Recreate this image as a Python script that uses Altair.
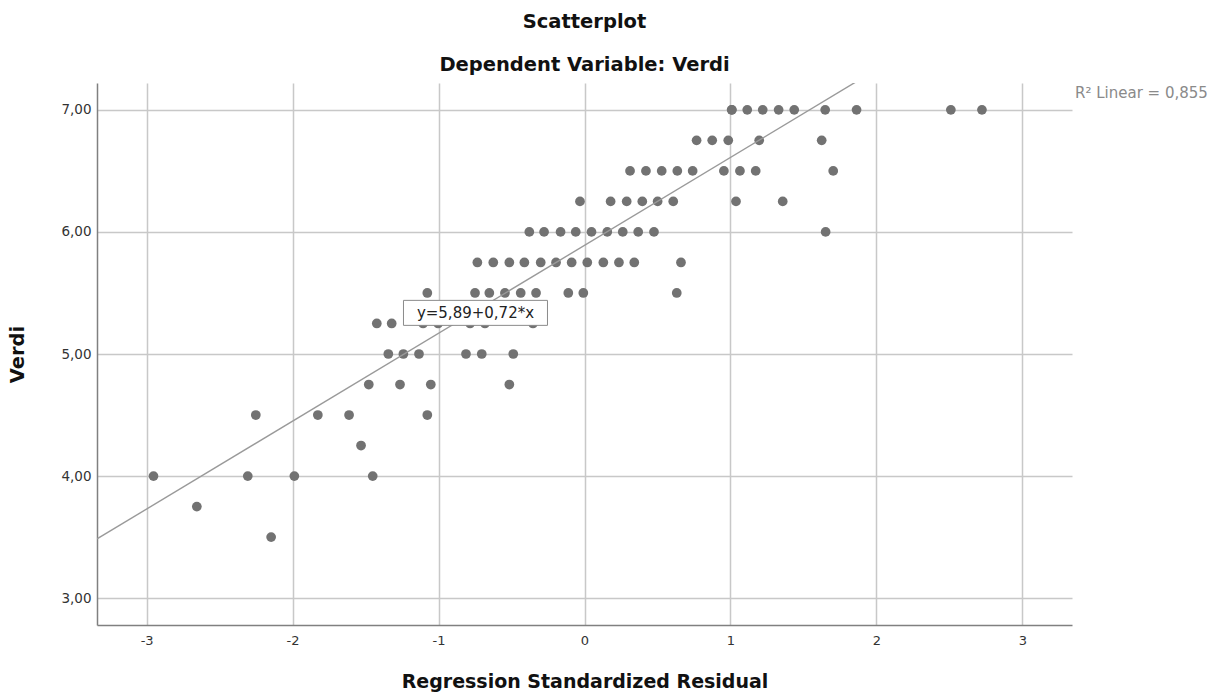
import altair as alt
import pandas as pd

# ---- data ----
verdi_levels = [7.00, 6.75, 6.50, 6.25, 6.00, 5.75, 5.50, 5.25, 5.00, 4.75, 4.50, 4.25, 4.00, 3.75, 3.50]
residuals_at_level = [
    [1.008, 1.010, 1.115, 1.221, 1.330, 1.437, 1.649, 1.864, 2.510, 2.723],
    [0.768, 0.875, 0.985, 1.197, 1.625],
    [0.312, 0.421, 0.529, 0.636, 0.741, 0.955, 1.065, 1.173, 1.704],
    [-0.031, 0.179, 0.289, 0.396, 0.501, 0.608, 1.038, 1.358],
    [-0.378, -0.277, -0.164, -0.060, 0.048, 0.156, 0.262, 0.368, 0.476, 1.652],
    [-0.734, -0.625, -0.515, -0.412, -0.300, -0.195, -0.088, 0.019, 0.129, 0.236, 0.341, 0.661],
    [-1.077, -0.750, -0.652, -0.545, -0.437, -0.332, -0.111, -0.008, 0.632],
    [-1.423, -1.321, -1.106, -1.003, -0.784, -0.682, -0.353],
    [-1.344, -1.241, -1.134, -0.812, -0.704, -0.488],
    [-1.478, -1.264, -1.053, -0.515],
    [-2.252, -1.827, -1.613, -1.077],
    [-1.531],
    [-2.953, -2.307, -1.988, -1.451],
    [-2.656],
    [-2.147],
]

x_ticks = [-3, -2, -1, 0, 1, 2, 3]
y_ticks = [3, 4, 5, 6, 7]
x_domain = [-3.34, 3.34]
y_domain = [2.78, 7.22]

fit_intercept = 5.89
fit_slope = 0.72
fit_label = ["y=5,89+0,72*x"]
fit_label_x = [-0.747]
fit_label_y = [5.337]
r2_label = "R\u00b2 Linear = 0,855"

# ---- tables ----
pts = pd.DataFrame(
    [{"Residual": x, "Verdi": lvl} for lvl, xs in zip(verdi_levels, residuals_at_level) for x in xs]
)
fit = pd.DataFrame({"Residual": x_domain})
fit["Verdi"] = fit_intercept + fit_slope * fit["Residual"]
lab = pd.DataFrame({"Residual": fit_label_x, "Verdi": fit_label_y, "txt": fit_label})

FONT = "DejaVu Sans"
W, H = 975, 542

xs = alt.Scale(domain=x_domain, nice=False, zero=False)
ys = alt.Scale(domain=y_domain, nice=False, zero=False)

x_axis = alt.Axis(
    values=x_ticks, labelExpr="'' + datum.value", grid=True, ticks=False,
    title="Regression Standardized Residual", titleY=62, titleBaseline="alphabetic",
    labelPadding=9, labelFontSize=13, labelFont=FONT, labelColor="#333333",
    titleFont=FONT, titleFontSize=19, titleFontWeight="bold", titleColor="#111111",
)
y_axis = alt.Axis(
    values=y_ticks, labelExpr="replace(format(datum.value, '.2f'), '.', ',')", grid=True, ticks=False,
    title="Verdi", titleX=-74, titleY=H / 2, titleBaseline="alphabetic", titleAlign="center",
    labelPadding=6, labelFontSize=13.5, labelFont=FONT, labelColor="#333333",
    titleFont=FONT, titleFontSize=19.5, titleFontWeight="bold", titleColor="#111111",
)

points = alt.Chart(pts).mark_circle(size=95, color="#727272", opacity=1).encode(
    x=alt.X("Residual:Q", scale=xs, axis=x_axis),
    y=alt.Y("Verdi:Q", scale=ys, axis=y_axis),
)

line = alt.Chart(fit).mark_line(color="#9a9a9a", strokeWidth=1.4, clip=True).encode(
    x=alt.X("Residual:Q", scale=xs),
    y=alt.Y("Verdi:Q", scale=ys),
)

box = alt.Chart(lab).mark_point(
    shape="M-1,-0.1736L1,-0.1736L1,0.1736L-1,0.1736Z", size=144 * 144,
    filled=True, fill="white", stroke="#8a8a8a", strokeWidth=1, opacity=1,
).encode(
    x=alt.X("Residual:Q", scale=xs),
    y=alt.Y("Verdi:Q", scale=ys),
)

text = alt.Chart(lab).mark_text(
    font=FONT, fontSize=15, color="#222222", align="center", baseline="middle"
).encode(
    x=alt.X("Residual:Q", scale=xs),
    y=alt.Y("Verdi:Q", scale=ys),
    text="txt:N",
)

r2 = alt.Chart(pd.DataFrame({"t": [r2_label]})).mark_text(
    font=FONT, fontSize=15, color="#8a8a8a", align="left", baseline="alphabetic"
).encode(
    x=alt.value(W + 3), y=alt.value(15), text="t:N"
)

chart = (
    alt.layer(points, line, box, text, r2)
    .properties(
        width=W, height=H,
        title=alt.Title(
            "Scatterplot", subtitle="Dependent Variable: Verdi", anchor="middle",
            font=FONT, fontSize=19.5, fontWeight="bold", color="#111111",
            subtitleFont=FONT, subtitleFontSize=19.5, subtitleFontWeight="bold",
            subtitleColor="#111111", subtitlePadding=23, offset=8,
        ),
        autosize=alt.AutoSizeParams(type="none"),
        padding={"left": 97, "right": 144, "top": 83, "bottom": 70},
    )
    .configure_view(strokeWidth=0)
    .configure_axis(
        gridColor="#c8c8c8", gridWidth=1.5, domainColor="#808080", domainWidth=1.5,
    )
)

chart.save("out.html", embed_options={"renderer": "svg", "actions": False})
